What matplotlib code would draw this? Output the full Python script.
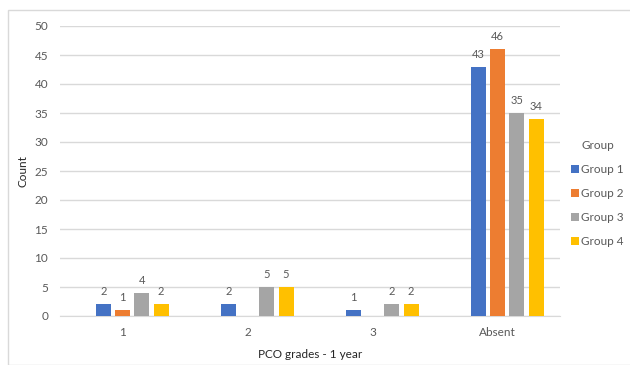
import numpy as np
import matplotlib.pyplot as plt
from matplotlib.patches import Rectangle

plt.rcParams['font.family'] = ['Lato', 'DejaVu Sans']

# data
categories = ['1', '2', '3', 'Absent']
groups = ['Group 1', 'Group 2', 'Group 3', 'Group 4']
group1 = [2, 2, 1, 43]
group2 = [1, np.nan, np.nan, 46]
group3 = [4, 5, 2, 35]
group4 = [2, 5, 2, 34]
colors = ['#4472C4', '#ED7D31', '#A5A5A5', '#FFC000']

txt = '#595959'
fig = plt.figure(figsize=(6.3, 3.65), dpi=100)
fig.patches.append(Rectangle((8 / 630, 0), 1, 1 - 10 / 365, transform=fig.transFigure,
                             fill=False, edgecolor='#d9d9d9', linewidth=1))
ax = fig.add_axes([60 / 630, 1 - 316 / 365, 500 / 630, 290 / 365])

x = np.arange(len(categories))
step = 0.154
width = 0.12
# Excel leaves one empty slot on the left of each cluster
for i, (vals, name, c) in enumerate(zip([group1, group2, group3, group4], groups, colors)):
    pos = x + (i - 1) * step
    ax.bar(pos, vals, width, color=c, label=name, zorder=3)
    for p, v in zip(pos, vals):
        if not np.isnan(v):
            ax.annotate(f'{int(v)}', (p, v), xytext=(0, 6.5), textcoords='offset points',
                        ha='center', va='baseline', fontsize=8, color=txt)

ax.set_xlim(-0.5, 3.5)
ax.set_ylim(0, 50)
ax.set_yticks(range(0, 51, 5))
ax.set_xticks(x)
ax.set_xticklabels(categories)
ax.yaxis.grid(True, color='#d9d9d9', linewidth=1, zorder=0)
for s in ['top', 'right', 'left']:
    ax.spines[s].set_visible(False)
ax.spines['bottom'].set_color('#d9d9d9')
ax.tick_params(axis='both', length=0, colors=txt, labelsize=8.5)
ax.tick_params(axis='x', pad=8)
ax.tick_params(axis='y', pad=8.5)
ax.set_xlabel('PCO grades - 1 year', fontsize=8.5, color='#262626', labelpad=8)
ax.set_ylabel('Count', fontsize=8.5, color='#262626', labelpad=4)

leg = fig.legend(title='Group', loc='upper left', bbox_to_anchor=(571 / 630, 1 - 140 / 365),
                 frameon=False, fontsize=8.5, title_fontsize=8.5, handlelength=0.68,
                 handleheight=0.68, handletextpad=0.2, labelspacing=1.1, alignment='center',
                 borderaxespad=0, borderpad=0)
for t in leg.get_texts():
    t.set_color(txt)
leg.get_title().set_color(txt)

fig.savefig('out.png', dpi=100)
